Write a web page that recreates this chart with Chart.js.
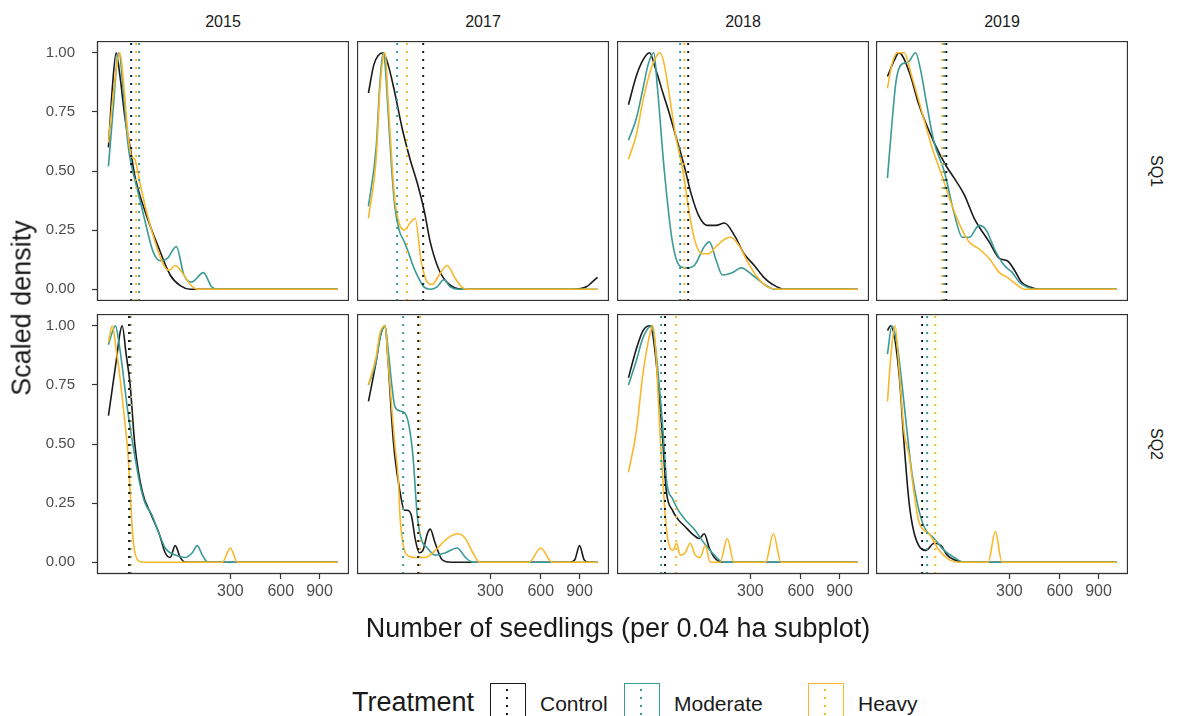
<!DOCTYPE html>
<html>
<head>
<meta charset="utf-8">
<script src="https://cdn.jsdelivr.net/npm/chart.js@4.4.1/dist/chart.umd.min.js"></script>
<style>
  body { margin: 0; background: #fff; }
  #fig { position: relative; width: 1180px; height: 716px; overflow: hidden; background: #fff;
         font-family: "Liberation Sans", Arial, sans-serif; color: #1a1a1a; }
  #fig canvas { position: absolute; }
  .lbl { position: absolute; white-space: nowrap; line-height: 1; }
  .key { position: absolute; width: 36px; height: 44px; box-sizing: border-box; border: 1.6px solid; }
  .key i { position: absolute; left: 15px; top: 5px; width: 2px; height: 40px; }
</style>
</head>
<body>
<div id="fig"></div>
<script>
// facets and groups
const years = ["2015", "2017", "2018", "2019"];
const sites = ["SQ1", "SQ2"];
const treatments = ["Control", "Moderate", "Heavy"];
const treatmentColors = ["#1a1a1a", "#3a9b96", "#f9b82a"];

// axes
const xTicks = [300, 600, 900];
const yTicks = [0, 0.25, 0.5, 0.75, 1];
const xDataMax = 1060;

// scaled density curves, [seedlings, density]
const control2015SQ1 = [[0,0.6],[0.3,0.85],[1.2,1.0],[2.7,0.9],[5.6,0.72],[9.5,0.6],[14,0.48],[27,0.33],[50,0.18],[77,0.06],[104,0.015],[135,0],[1060,0]];
const moderate2015SQ1 = [[0,0.52],[0.6,0.8],[1.5,0.97],[2.3,1.0],[4.3,0.85],[7,0.65],[9.5,0.55],[15,0.45],[26,0.3],[40,0.16],[54,0.12],[70,0.13],[93,0.18],[115,0.06],[140,0.03],[182,0.07],[215,0.01],[240,0],[1060,0]];
const heavy2015SQ1 = [[0,0.62],[0.6,0.85],[1.9,0.98],[2.7,1.0],[4.9,0.85],[7.8,0.65],[11,0.56],[14,0.55],[20,0.45],[30,0.32],[44,0.2],[62,0.1],[74,0.08],[90,0.1],[110,0.07],[135,0.02],[160,0],[1060,0]];

const control2015SQ2 = [[0,0.62],[1.2,0.85],[2.7,0.97],[3.8,1.0],[6.3,0.88],[9.5,0.75],[14,0.5],[23,0.3],[37,0.2],[52,0.12],[65,0.04],[77,0.02],[90,0.07],[104,0.02],[119,0],[1060,0]];
const moderate2015SQ2 = [[0,0.92],[0.4,0.98],[1.0,1.0],[2.2,0.93],[4.3,0.8],[7,0.66],[9.5,0.57],[14,0.45],[20,0.33],[27,0.25],[38,0.2],[50,0.13],[65,0.06],[90,0.03],[119,0.02],[142,0.04],[159,0.07],[178,0.03],[200,0],[1060,0]];
const heavy2015SQ2 = [[0,0.93],[0.3,1.0],[1.2,0.9],[2.7,0.78],[5,0.62],[7.8,0.45],[9.5,0.3],[11.3,0.15],[13.3,0.06],[17,0.01],[23,0],[262,0],[300,0.06],[336,0],[1060,0]];

const control2017SQ1 = [[0,0.83],[0.6,0.95],[4.3,1.0],[7.8,0.95],[13,0.85],[23,0.68],[35,0.55],[48,0.45],[63,0.33],[77,0.2],[101,0.08],[132,0.02],[178,0],[841,0],[960,0.01],[1010,0.03],[1060,0.05]];
const moderate2017SQ1 = [[0,0.35],[1.2,0.6],[2.7,0.88],[4.3,1.0],[5.6,0.95],[7.8,0.75],[11,0.5],[14,0.35],[19,0.25],[26,0.2],[33,0.15],[40,0.1],[50,0.05],[62,0.01],[77,0],[95,0.01],[115,0.04],[135,0.01],[165,0],[1060,0]];
const heavy2017SQ1 = [[0,0.3],[1.2,0.55],[2.7,0.85],[4.3,0.98],[5.6,1.0],[7.8,0.8],[11,0.55],[14,0.38],[19,0.28],[26,0.25],[35,0.28],[44,0.3],[56,0.12],[70,0.03],[82,0.02],[101,0.06],[125,0.1],[150,0.05],[175,0.01],[200,0],[1060,0]];

const control2017SQ2 = [[0,0.68],[1.2,0.85],[2.7,0.95],[5.6,1.0],[7.8,0.85],[11,0.6],[14,0.45],[20,0.3],[26,0.22],[30,0.22],[37,0.2],[44,0.1],[52,0.04],[60,0.05],[70,0.12],[77,0.14],[90,0.08],[110,0.01],[140,0],[820,0],[860,0.01],[900,0.07],[940,0.01],[980,0],[1060,0]];
const moderate2017SQ2 = [[0,0.75],[1.2,0.85],[2.7,0.95],[5.6,1.0],[7.8,0.9],[11,0.75],[14,0.66],[20,0.64],[27,0.63],[33,0.58],[40,0.45],[48,0.2],[56,0.1],[70,0.06],[90,0.03],[120,0.04],[159,0.06],[190,0.02],[220,0],[1060,0]];
const heavy2017SQ2 = [[0,0.75],[1.2,0.87],[2.7,0.97],[5.6,1.0],[7.8,0.85],[11,0.65],[14,0.5],[18,0.35],[20,0.2],[24,0.08],[30,0.03],[45,0.02],[65,0.02],[90,0.05],[125,0.1],[160,0.12],[190,0.1],[220,0.04],[250,0],[520,0],[600,0.06],[680,0],[1060,0]];

const control2018SQ1 = [[0,0.78],[1.2,0.9],[4.3,0.97],[9,1.0],[15,0.93],[24,0.83],[33,0.75],[45,0.65],[63,0.52],[80,0.4],[100,0.31],[125,0.27],[155,0.27],[186,0.28],[231,0.22],[270,0.15],[320,0.1],[370,0.05],[420,0.02],[490,0],[1060,0]];
const moderate2018SQ1 = [[0,0.63],[1.2,0.72],[4.3,0.85],[7.8,0.95],[13,1.0],[17,0.85],[26,0.5],[39,0.2],[52,0.1],[65,0.09],[87,0.1],[116,0.18],[132,0.2],[156,0.12],[178,0.06],[218,0.07],[257,0.09],[310,0.06],[373,0.02],[430,0],[1060,0]];
const heavy2018SQ1 = [[0,0.55],[1.2,0.65],[4.3,0.8],[9.5,0.92],[15,0.98],[20,1.0],[26,0.95],[35,0.8],[45,0.65],[60,0.5],[75,0.32],[90,0.2],[110,0.15],[130,0.15],[155,0.18],[185,0.21],[210,0.22],[250,0.18],[290,0.11],[336,0.05],[390,0.01],[450,0],[1060,0]];

const control2018SQ2 = [[0,0.78],[1.2,0.9],[4.3,0.98],[9.5,1.0],[14,0.9],[23,0.55],[29,0.3],[39,0.22],[50,0.18],[65,0.15],[82,0.12],[101,0.1],[116,0.12],[132,0.06],[149,0.02],[178,0],[1060,0]];
const moderate2018SQ2 = [[0,0.75],[1.2,0.85],[4.3,0.95],[11,1.0],[15,0.9],[23,0.6],[30,0.33],[39,0.27],[50,0.22],[65,0.18],[87,0.14],[116,0.08],[149,0.03],[182,0],[1060,0]];
const heavy2018SQ2 = [[0,0.38],[1.2,0.55],[4.3,0.8],[9.5,0.97],[12,1.0],[15,0.9],[20,0.55],[26,0.25],[30,0.12],[35,0.06],[40,0.05],[47,0.08],[54,0.03],[65,0.04],[77,0.08],[90,0.03],[104,0.02],[119,0.07],[135,0],[170,0],[197,0.1],[225,0],[380,0],[424,0.12],[470,0],[1060,0]];

const control2019SQ1 = [[0,0.9],[1,0.97],[2.7,1.0],[9.5,0.92],[20,0.78],[44,0.62],[70,0.52],[90,0.47],[119,0.4],[152,0.3],[209,0.2],[253,0.13],[290,0.12],[326,0.08],[362,0.03],[405,0.01],[467,0],[1060,0]];
const moderate2019SQ1 = [[0,0.47],[0.4,0.7],[1.5,0.88],[3.8,0.95],[8.5,0.96],[16,1.0],[22,0.93],[30,0.8],[44,0.62],[65,0.5],[90,0.32],[113,0.22],[135,0.22],[170,0.27],[197,0.25],[231,0.17],[276,0.1],[315,0.07],[351,0.03],[390,0.01],[440,0],[1060,0]];
const heavy2019SQ1 = [[0,0.85],[0.4,0.95],[1.9,1.0],[5.6,1.0],[12,0.9],[24,0.75],[40,0.6],[60,0.48],[85,0.35],[113,0.25],[135,0.2],[170,0.17],[209,0.13],[253,0.07],[290,0.05],[336,0.02],[380,0],[1060,0]];

const control2019SQ2 = [[0,0.98],[0.2,1.0],[2.7,0.8],[5.6,0.5],[9.5,0.25],[14,0.13],[22,0.06],[30,0.05],[44,0.08],[58,0.07],[72,0.03],[90,0.01],[119,0],[1060,0]];
const moderate2019SQ2 = [[0,0.88],[0.4,1.0],[1.9,0.92],[4.3,0.75],[7.8,0.55],[12,0.38],[18,0.25],[27,0.15],[44,0.1],[65,0.05],[90,0.02],[119,0],[1060,0]];
const heavy2019SQ2 = [[0,0.68],[0.4,0.92],[1.2,1.0],[2.7,0.82],[5.6,0.55],[9.5,0.45],[14,0.3],[20,0.17],[35,0.12],[54,0.05],[77,0.01],[104,0],[205,0],[235,0.13],[265,0],[1060,0]];

// treatment means per year: [Control, Moderate, Heavy]
const meansSQ1 = [[10.4, 19, 15.5], [60.5, 16.6, 30], [72, 54, 63], [70, 65, 60.5]];
const meansSQ2 = [[8.6, 9.5, 10.4], [50, 24.3, 54], [27, 21.6, 46], [24.3, 31.8, 46]];

const curves = {
  "2015 SQ1": [control2015SQ1, moderate2015SQ1, heavy2015SQ1],
  "2017 SQ1": [control2017SQ1, moderate2017SQ1, heavy2017SQ1],
  "2018 SQ1": [control2018SQ1, moderate2018SQ1, heavy2018SQ1],
  "2019 SQ1": [control2019SQ1, moderate2019SQ1, heavy2019SQ1],
  "2015 SQ2": [control2015SQ2, moderate2015SQ2, heavy2015SQ2],
  "2017 SQ2": [control2017SQ2, moderate2017SQ2, heavy2017SQ2],
  "2018 SQ2": [control2018SQ2, moderate2018SQ2, heavy2018SQ2],
  "2019 SQ2": [control2019SQ2, moderate2019SQ2, heavy2019SQ2],
};
const means = { SQ1: meansSQ1, SQ2: meansSQ2 };

// square-root x scale (signed so the left expansion can go below zero)
const ssqrt = v => Math.sign(v) * Math.sqrt(Math.abs(v));
class SqrtScale extends Chart.LinearScale {
  configure() {
    super.configure();
    this._sqStart = ssqrt(this.min);
    this._sqRange = ssqrt(this.max) - this._sqStart;
  }
  getPixelForValue(value) {
    if (value === null || value === undefined || isNaN(value)) return NaN;
    return this.getPixelForDecimal((ssqrt(value) - this._sqStart) / this._sqRange);
  }
  getValueForPixel(pixel) {
    const s = this._sqStart + this.getDecimalForPixel(pixel) * this._sqRange;
    return Math.sign(s) * s * s;
  }
}
SqrtScale.id = "sqrt";
SqrtScale.defaults = Chart.LinearScale.defaults;
Chart.register(SqrtScale);

// 5% expansion on both sides, in sqrt space
const sqMax = Math.sqrt(xDataMax);
const xMin = -Math.pow(sqMax * 0.05, 2);
const xMax = Math.pow(sqMax * 1.05, 2);
const yMin = -0.05, yMax = 1.05;

// layout
const W = 252, H = 260;
const colLeft = [97, 357, 617, 876];
const rowTop = [41, 314];
const YAX = 75, XAX = 40;
const FONT = '"Liberation Sans", Arial, sans-serif';
Chart.defaults.font.family = FONT;

const fig = document.getElementById("fig");

const panelBorder = {
  id: "panelBorder",
  afterDatasetsDraw(chart) {
    const { ctx, chartArea: a } = chart;
    ctx.save();
    ctx.strokeStyle = "#333333";
    ctx.lineWidth = 1.3;
    ctx.strokeRect(a.left + 0.5, a.top + 0.5, a.right - a.left - 1, a.bottom - a.top - 1);
    ctx.restore();
  }
};

function addLabel(text, x, y, size, extra) {
  const d = document.createElement("div");
  d.className = "lbl";
  d.textContent = text;
  d.style.fontSize = size + "px";
  d.style.left = x + "px";
  d.style.top = y + "px";
  d.style.transform = "translate(-50%, -50%)" + (extra || "");
  fig.appendChild(d);
  return d;
}

sites.forEach((site, r) => {
  years.forEach((year, c) => {
    const isLeft = c === 0, isBottom = r === 1;
    const canvas = document.createElement("canvas");
    const cw = W + (isLeft ? YAX : 0), ch = H + (isBottom ? XAX : 0);
    canvas.width = cw; canvas.height = ch;
    canvas.style.width = cw + "px"; canvas.style.height = ch + "px";
    canvas.style.left = (colLeft[c] - (isLeft ? YAX : 0)) + "px";
    canvas.style.top = rowTop[r] + "px";
    fig.appendChild(canvas);

    const lines = curves[year + " " + site];
    const m = means[site][c];
    const datasets = [];
    treatments.forEach((t, i) => {
      datasets.push({
        label: t,
        data: lines[i].map(([x, y]) => ({ x, y })),
        borderColor: treatmentColors[i],
        borderWidth: 1.6,
        pointRadius: 0,
        fill: false,
        cubicInterpolationMode: "monotone",
        order: 3 - i
      });
      datasets.push({
        label: t + " mean",
        data: [{ x: m[i], y: yMin }, { x: m[i], y: yMax }],
        borderColor: treatmentColors[i],
        borderWidth: 2,
        borderDash: [2, 6],
        pointRadius: 0,
        fill: false,
        order: 0
      });
    });

    new Chart(canvas, {
      type: "line",
      data: { datasets },
      options: {
        responsive: false,
        animation: false,
        layout: { padding: 0 },
        plugins: { legend: { display: false }, tooltip: { enabled: false } },
        scales: {
          x: {
            type: "sqrt",
            min: xMin, max: xMax,
            display: isBottom,
            afterBuildTicks: s => { s.ticks = xTicks.map(v => ({ value: v })); },
            afterFit: s => {
              s.paddingLeft = 0; s.paddingRight = 0;
              if (isBottom) s.height = XAX;
            },
            border: { display: false },
            grid: { drawOnChartArea: false, drawTicks: true, tickLength: 5, tickColor: "#333333", tickWidth: 1.2 },
            ticks: { autoSkip: false, maxRotation: 0, padding: 3, color: "#4d4d4d", font: { size: 16 },
                     callback: v => String(v) }
          },
          y: {
            type: "linear",
            min: yMin, max: yMax,
            display: isLeft,
            afterBuildTicks: s => { s.ticks = yTicks.map(v => ({ value: v })); },
            afterFit: s => {
              s.paddingTop = 0; s.paddingBottom = 0;
              if (isLeft) s.width = YAX;
            },
            border: { display: false },
            grid: { drawOnChartArea: false, drawTicks: true, tickLength: 5, tickColor: "#333333", tickWidth: 1.2 },
            ticks: { padding: 17, color: "#4d4d4d", font: { size: 15 }, callback: v => v.toFixed(2) }
          }
        }
      },
      plugins: [panelBorder]
    });

    if (r === 0) addLabel(year, colLeft[c] + W / 2, 22, 16);
    if (c === years.length - 1) addLabel(site, colLeft[c] + W + 28, rowTop[r] + H / 2, 16, " rotate(90deg)");
  });
});

// axis titles
addLabel("Scaled density", 22, (rowTop[0] + rowTop[1] + H) / 2, 27, " rotate(-90deg)");
addLabel("Number of seedlings (per 0.04 ha subplot)", 618, 628, 27);

// legend
const legendTitle = addLabel("Treatment", 0, 702, 27);
legendTitle.style.transform = "translate(0, -50%)";
legendTitle.style.left = "352px";
const keyLeft = [490, 624, 808];
treatments.forEach((t, i) => {
  const k = document.createElement("div");
  k.className = "key";
  k.style.left = keyLeft[i] + "px";
  k.style.top = "683px";
  k.style.borderColor = treatmentColors[i];
  const dot = document.createElement("i");
  dot.style.background = `repeating-linear-gradient(to bottom, ${treatmentColors[i]} 0 2px, transparent 2px 8px)`;
  k.appendChild(dot);
  fig.appendChild(k);
  const l = addLabel(t, 0, 703, 21);
  l.style.transform = "translate(0, -50%)";
  l.style.left = (keyLeft[i] + 50) + "px";
});
</script>
</body>
</html>
